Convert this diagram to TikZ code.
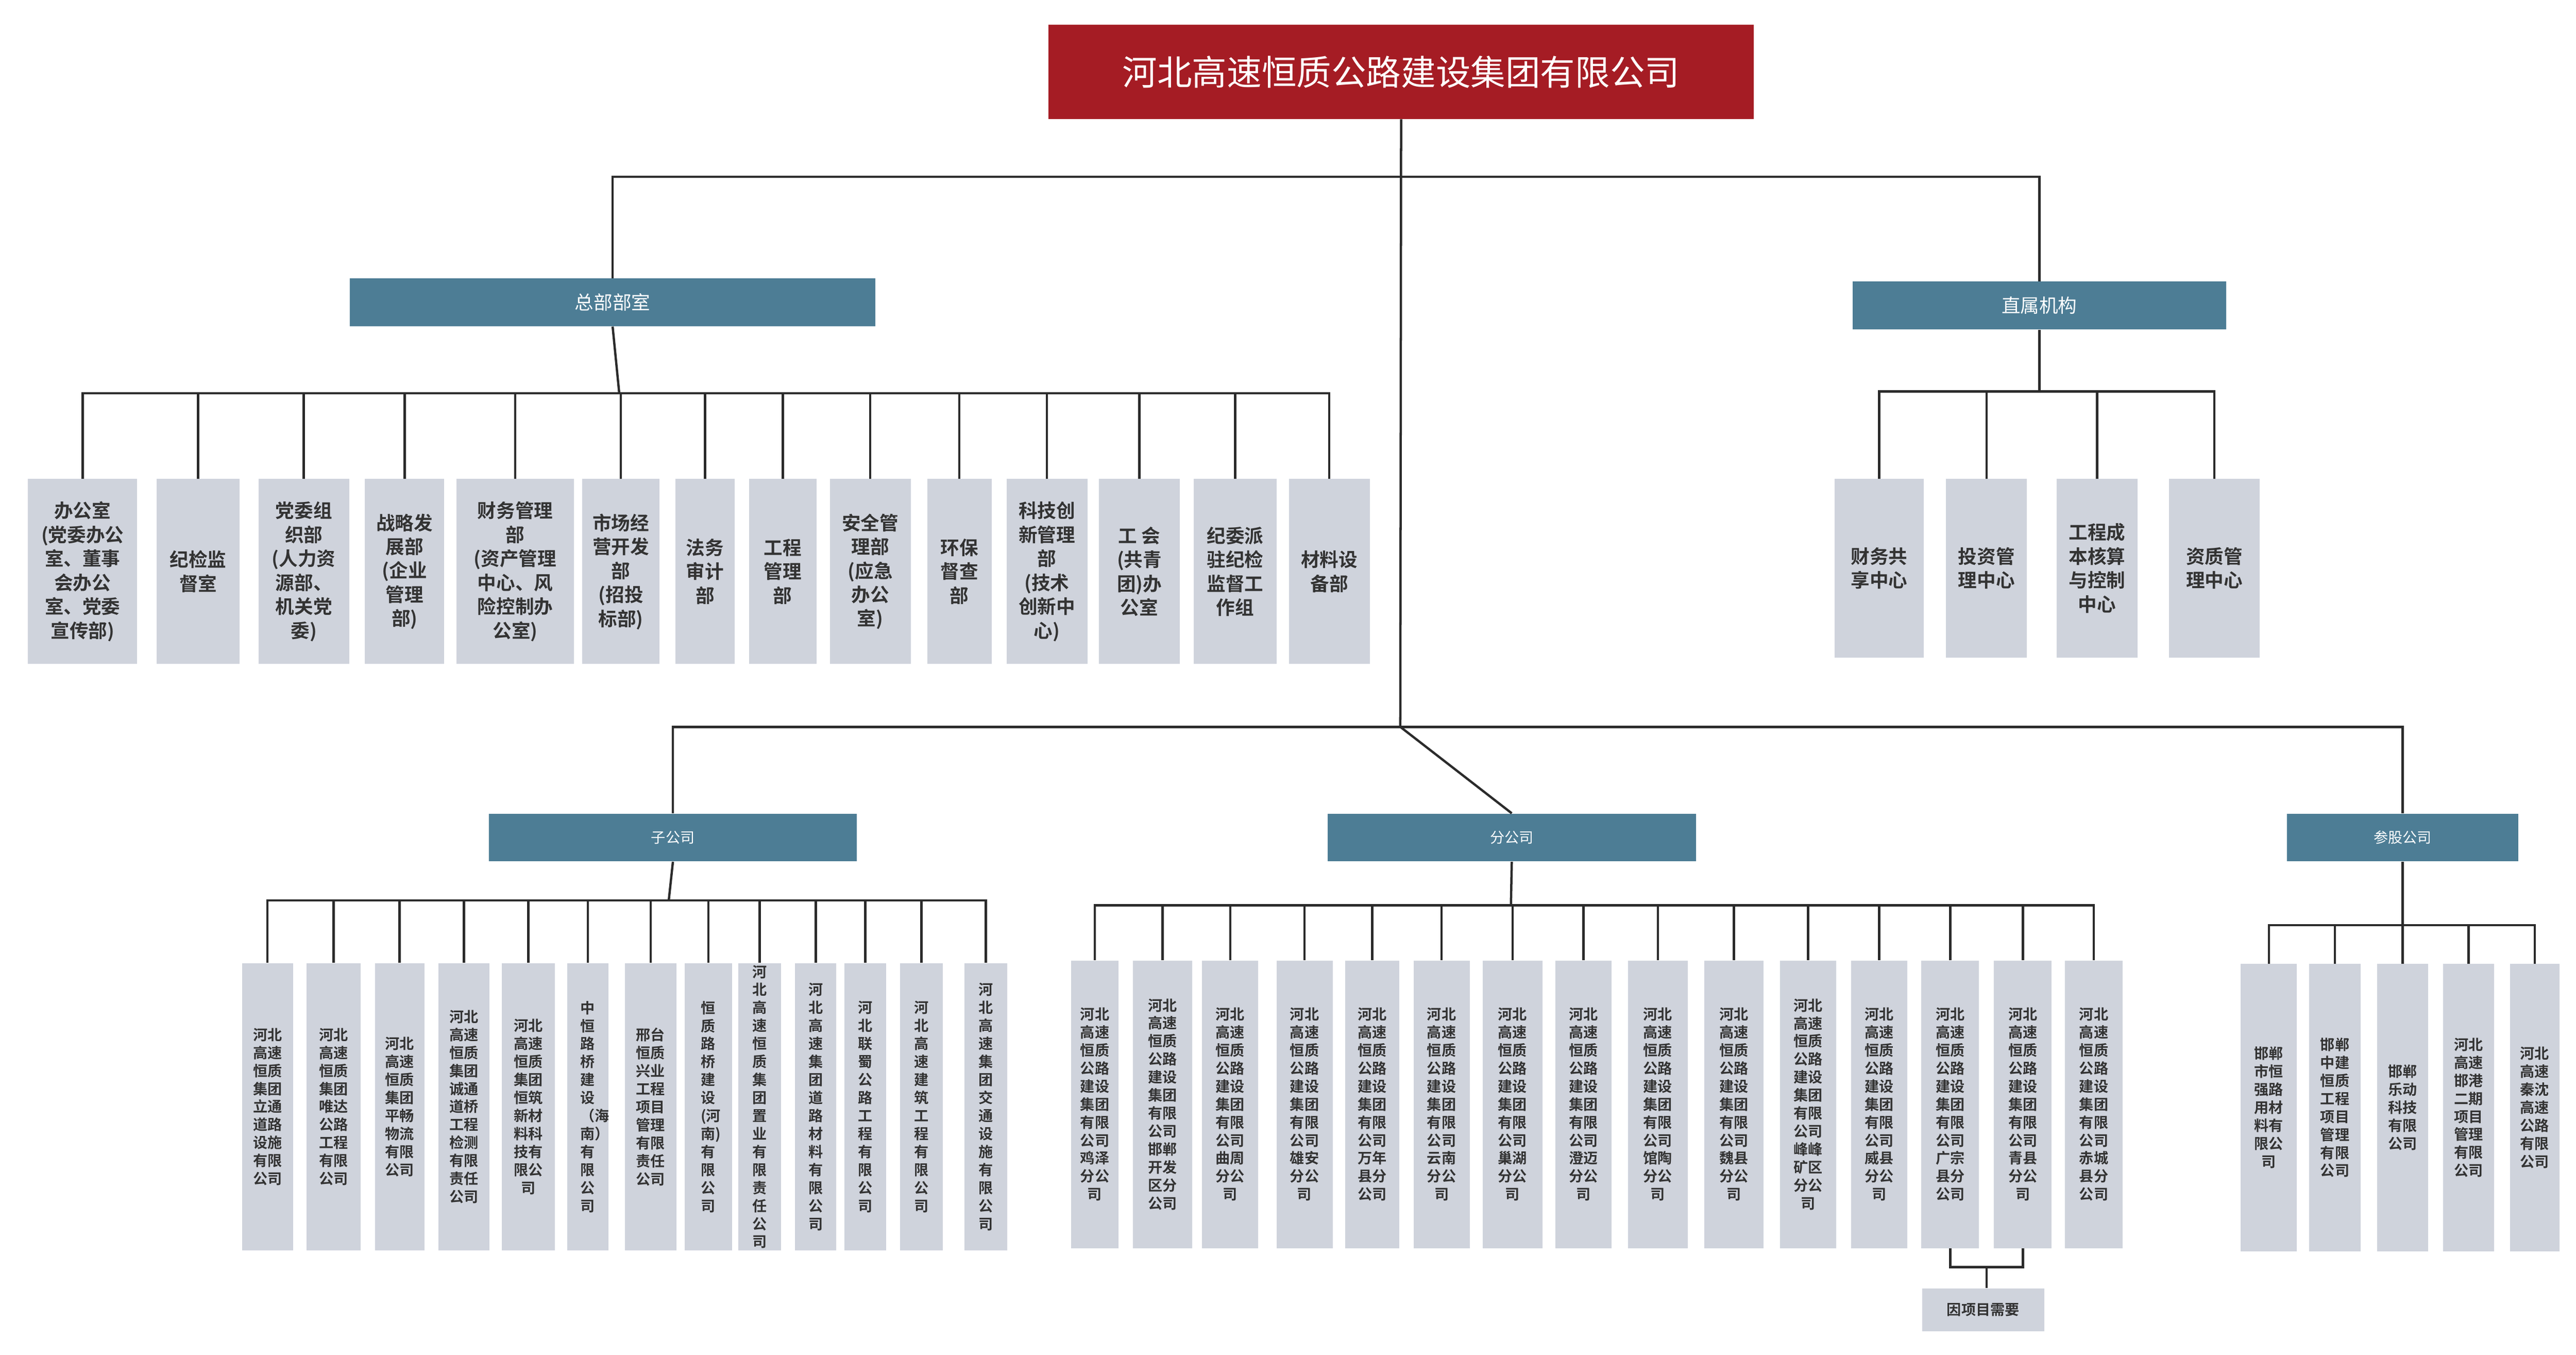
\documentclass[tikz,border=0pt]{standalone}
\usepackage{fontspec}
\setmainfont{Noto Sans CJK SC}[BoldFont={* Bold}]
\XeTeXlinebreaklocale "zh"
\XeTeXlinebreakskip=0pt plus 1pt
\definecolor{rootred}{HTML}{A51C24}
\definecolor{headblue}{HTML}{4D7D95}
\definecolor{boxgrey}{HTML}{CFD3DC}
\definecolor{txtgrey}{HTML}{333333}
\definecolor{linegrey}{HTML}{2B2B2B}
\tikzset{
  link/.style={draw=linegrey, line width=1.6pt},
  rootbox/.style={fill=rootred, text=white, font=\fontsize{24}{28}\selectfont,
    minimum width=427*0.04cm, minimum height=57*0.04cm, inner sep=0pt},
  headbox/.style={fill=headblue, text=white, minimum height=29*0.04cm, inner sep=0pt},
  dept/.style={fill=boxgrey, text=txtgrey, font=\bfseries\fontsize{13}{16.5}\selectfont,
    align=center, inner sep=0pt},
  col/.style={fill=boxgrey, text=txtgrey, font=\bfseries\fontsize{10}{12.4}\selectfont,
    align=center, inner sep=0pt, minimum height=174*0.04cm},
}
\begin{document}
\begin{tikzpicture}[x=0.04cm,y=-0.04cm]
  \useasboundingbox (0,0) rectangle (1560,820);

  % top
  \node[rootbox] (root) at (848.5,43.5) {河北高速恒质公路建设集团有限公司};
  \coordinate (jroot) at (848,107);
  \coordinate (jlow) at (848,440);
  \draw[link] (root.south) -- (jlow);

  % heads
  \node[headbox, minimum width=318*0.04cm, font=\fontsize{13}{16}\selectfont] (hq) at (371,183) {总部部室};
  \node[headbox, minimum width=226*0.04cm, font=\fontsize{13}{16}\selectfont] (direct) at (1235,185) {直属机构};
  \node[headbox, minimum width=223*0.04cm, font=\fontsize{10}{12}\selectfont] (subs) at (407.5,507) {子公司};
  \node[headbox, minimum width=223*0.04cm, font=\fontsize{10}{12}\selectfont] (branch) at (915.5,507) {分公司};
  \node[headbox, minimum width=140*0.04cm, font=\fontsize{10}{12}\selectfont] (share) at (1455,507) {参股公司};

  \draw[link] (hq.north) |- (jroot) -| (direct.north);
  \draw[link] (subs.north) |- (jlow) -| (share.north);
  \draw[link] (jlow) -- (branch.north);

  % headquarters departments
  \coordinate (jhq) at (375,238);
  \draw[link] (hq.south) -- (jhq);
  \foreach \n/\x/\w/\t in {
    1/50/66/{办公室\\(党委办公\\室、董事\\会办公\\室、党委\\宣传部)},
    2/120/50/{纪检监\\督室},
    3/184/55/{党委组\\织部\\(人力资\\源部、\\机关党\\委)},
    4/245/48/{战略发\\展部\\(企业\\管理\\部)},
    5/312/71/{财务管理\\部\\(资产管理\\中心、风\\险控制办\\公室)},
    6/376/47/{市场经\\营开发\\部\\(招投\\标部)},
    7/427/36/{法务\\审计\\部},
    8/474/41/{工程\\管理\\部},
    9/527/49/{安全管\\理部\\(应急\\办公\\室)},
    10/581/39/{环保\\督查\\部},
    11/634/49/{科技创\\新管理\\部\\(技术\\创新中\\心)},
    12/690/49/{工 会\\(共青\\团)办\\公室},
    13/748/50/{纪委派\\驻纪检\\监督工\\作组},
    14/805/49/{材料设\\备部}}{
    \node[dept, minimum width=\w*0.04cm, minimum height=112*0.04cm] (hq\n) at (\x,346) {\t};
    \draw[link] (hq\n.north) |- (jhq);
  }

  % direct units
  \coordinate (jdir) at (1235,237);
  \draw[link] (direct.south) -- (jdir);
  \foreach \n/\x/\w/\t in {
    1/1138/54/{财务共\\享中心},
    2/1203/49/{投资管\\理中心},
    3/1270/49/{工程成\\本核算\\与控制\\中心},
    4/1341/55/{资质管\\理中心}}{
    \node[dept, minimum width=\w*0.04cm, minimum height=108*0.04cm] (dir\n) at (\x,344) {\t};
    \draw[link] (dir\n.north) |- (jdir);
  }

  % subsidiaries
  \coordinate (jsub) at (405,545);
  \draw[link] (subs.south) -- (jsub);
  \foreach \n/\x/\w/\c/\t in {
    1/162/31/2/河北高速恒质集团立通道路设施有限公司,
    2/202/33/2/河北高速恒质集团唯达公路工程有限公司,
    3/242/30/2/河北高速恒质集团平畅物流有限公司,
    4/281/31/2/河北高速恒质集团诚通道桥工程检测有限责任公司,
    5/320/32/2/河北高速恒质集团恒筑新材料科技有限公司,
    6/356/25/1/中恒路桥建设（海南）有限公司,
    7/394/31/2/邢台恒质兴业工程项目管理有限责任公司,
    8/429/29/1/恒质路桥建设(河南)有限公司,
    9/460/26/1/河北高速恒质集团置业有限责任公司,
    10/494/25/1/河北高速集团道路材料有限公司,
    11/524/25/1/河北联蜀公路工程有限公司,
    12/558/26/1/河北高速建筑工程有限公司,
    13/597/26/1/河北高速集团交通设施有限公司}{
    \node[col, minimum width=\w*0.04cm, text width=\c*10pt+0.6pt] (sub\n) at (\x,670) {\t};
    \draw[link] (sub\n.north) |- (jsub);
  }

  % branches
  \coordinate (jbr) at (915,548);
  \draw[link] (branch.south) -- (jbr);
  \foreach \n/\x/\w/\t in {
    1/663/29/鸡泽, 2/704/36/邯郸开发区, 3/745/34/曲周, 4/790/34/雄安,
    5/831/33/万年县, 6/873/34/云南, 7/916/36/巢湖, 8/959/34/澄迈,
    9/1004/36/馆陶, 10/1050/36/魏县, 11/1095/34/峰峰矿区, 12/1138/34/威县,
    13/1181/35/广宗县, 14/1225/35/青县, 15/1268/35/赤城县}{
    \node[col, minimum width=\w*0.04cm, text width=20.6pt] (br\n) at (\x,668.5) {河北高速恒质公路建设集团有限公司\t 分公司};
    \draw[link] (br\n.north) |- (jbr);
  }
  \node[dept, font=\bfseries\fontsize{10}{12}\selectfont, minimum width=74*0.04cm,
    minimum height=26*0.04cm] (need) at (1201,793) {因项目需要};
  \coordinate (jneed) at (1203,767);
  \draw[link] (br13.south) |- (jneed) -| (br14.south);
  \draw[link] (jneed) -- (jneed |- need.north);

  % shareholdings
  \coordinate (jsh) at (1455,560);
  \draw[link] (share.south) -- (jsh);
  \foreach \n/\x/\w/\t in {
    1/1374/34/邯郸市恒强路用材料有限公司,
    2/1414/31/邯郸中建恒质工程项目管理有限公司,
    3/1455/31/邯郸乐动科技有限公司,
    4/1495/31/河北高速邯港二期项目管理有限公司,
    5/1535/30/河北高速秦沈高速公路有限公司}{
    \node[col, minimum width=\w*0.04cm, text width=20.6pt] (sh\n) at (\x,670.5) {\t};
    \draw[link] (sh\n.north) |- (jsh);
  }
\end{tikzpicture}
\end{document}
